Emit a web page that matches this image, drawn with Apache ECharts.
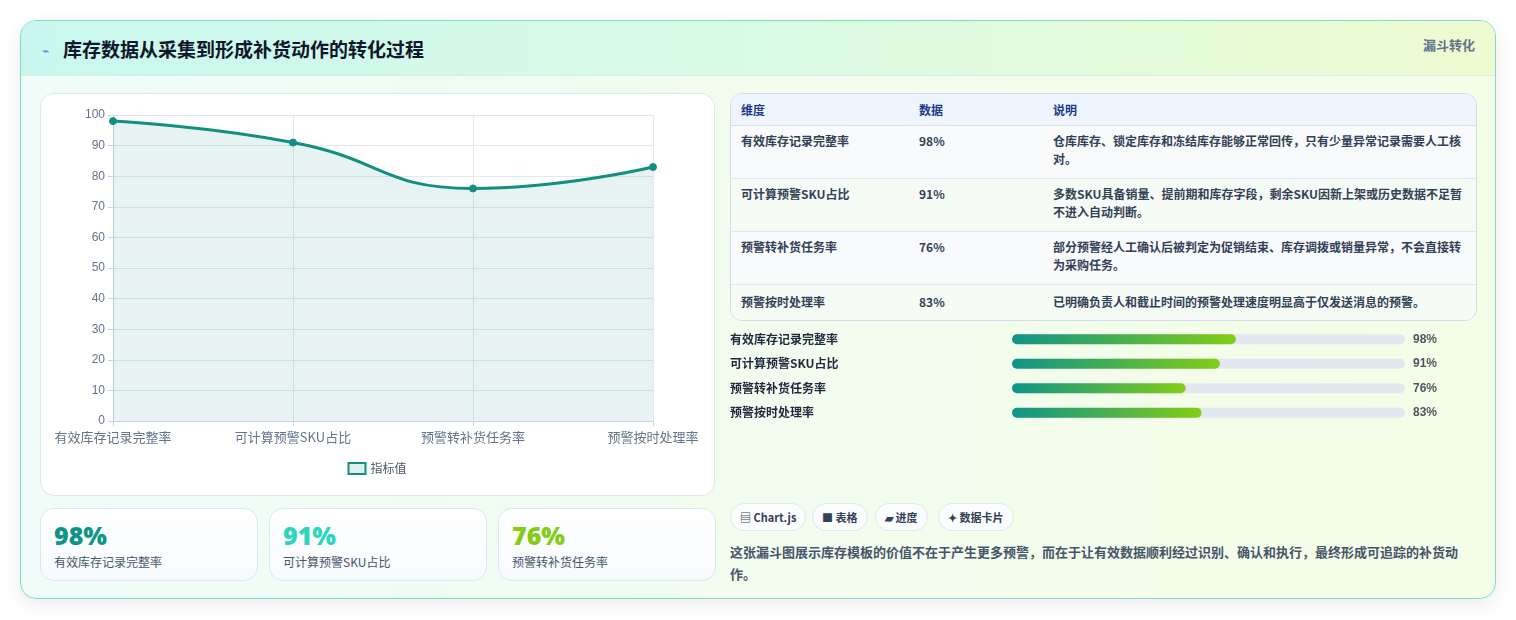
<!DOCTYPE html>
<html><head><meta charset="utf-8">
<script src="https://cdn.jsdelivr.net/npm/echarts@6/dist/echarts.min.js"></script>
<style>
*{box-sizing:border-box;margin:0;padding:0}
body{width:1516px;height:620px;background:#fff;font-family:"Noto Sans CJK SC","Noto Sans",sans-serif;position:relative;overflow:hidden}
#card{position:absolute;left:20px;top:20px;width:1476px;height:579px;border:1px solid #7fdcc4;border-radius:16px;background:linear-gradient(90deg,#effcf8,#f4fde6);box-shadow:0 6px 18px rgba(0,0,0,0.08);overflow:hidden}
#head{position:absolute;left:0;top:0;width:100%;height:55px;background:linear-gradient(90deg,#c9f7ef,#d9fae4 50%,#eefbd0);border-bottom:1px solid #d6ecea}
#title{position:absolute;left:42px;top:14px;font-size:19px;font-weight:700;color:#0f172a}
#icon{position:absolute;left:21px;top:20px;font-size:12px;color:#3b82f6}
#tag{position:absolute;right:20px;top:14px;font-size:13px;font-weight:700;color:#64748b}
.panel{position:absolute;background:#fff;border:1px solid #dde7ef;border-radius:14px}
.stat{position:absolute;top:487px;width:218px;height:73px;border:1px solid #dbe7f0;border-radius:14px;background:linear-gradient(180deg,#fff,#f7fafd)}
.stat b{position:absolute;left:13px;top:9px;font-size:25px;font-family:"Noto Sans",sans-serif;font-weight:900}
.stat span{position:absolute;left:13px;top:44px;font-size:12px;color:#475569}
table{position:absolute;left:709px;top:72px;width:747px;border-collapse:separate;border-spacing:0;border:1px solid #cfdbe6;border-radius:12px;overflow:hidden;font-size:12px;color:#334155;font-weight:600}
th{background:#eef5fe;color:#1e3a8a;text-align:left;height:32px;padding-left:10px;font-weight:700;border-bottom:1px solid #d5e0ea}
td{padding:5px 10px;vertical-align:top;line-height:18px;border-bottom:1px solid #dfe7ef}
tr:nth-child(odd) td{background:#f6fbf6}
tr:nth-child(even) td{background:#f8fafc}
tr:last-child td{border-bottom:none}
.chip{position:absolute;top:482px;height:28px;border:1px solid #dfe7ef;border-radius:14px;background:#fafcfd;font-size:11px;font-weight:700;color:#334155;line-height:26px;padding:0 9px}
#para{position:absolute;left:709px;top:520px;width:750px;font-size:13px;line-height:22px;color:#475569;font-weight:600}
</style></head><body>
<div id="card">
 <div id="head"><span id="icon">⌁</span><div id="title">库存数据从采集到形成补货动作的转化过程</div><div id="tag">漏斗转化</div></div>
 <div class="panel" style="left:19px;top:72px;width:675px;height:403px"></div>
 <div id="stats"></div>
 <table id="tbl"></table>
 <div id="chips"></div>
 <div id="para">这张漏斗图展示库存模板的价值不在于产生更多预警，而在于让有效数据顺利经过识别、确认和执行，最终形成可追踪的补货动作。</div>
</div>
<div id="line" style="position:absolute;left:40px;top:93px;width:674px;height:402px"></div>
<div id="bars" style="position:absolute;left:727px;top:327px;width:749px;height:100px"></div>
<script>
const categories=["有效库存记录完整率","可计算预警SKU占比","预警转补货任务率","预警按时处理率"];
const values=[98,91,76,83];
const notes=["仓库库存、锁定库存和冻结库存能够正常回传，只有少量异常记录需要人工核对。","多数SKU具备销量、提前期和库存字段，剩余SKU因新上架或历史数据不足暂不进入自动判断。","部分预警经人工确认后被判定为促销结束、库存调拨或销量异常，不会直接转为采购任务。","已明确负责人和截止时间的预警处理速度明显高于仅发送消息的预警。"];
const statColors=["#0f9488","#2dd4bf","#84cc16"];
const chips=["▤ Chart.js","■ 表格","▰ 进度","✦ 数据卡片"];
const chipX=[709,791,854,917];

let s='';for(let i=0;i<3;i++)s+=`<div class="stat" style="left:${19+i*229}px"><b style="color:${statColors[i]}">${values[i]}%</b><span>${categories[i]}</span></div>`;
document.getElementById('stats').innerHTML=s;
let t='<tr><th style="width:178px">维度</th><th style="width:134px">数据</th><th>说明</th></tr>';
const rh=[53,53,53,35];
categories.forEach((c,i)=>{t+=`<tr><td style="height:${rh[i]}px;padding-top:${i==3?8:6}px">${c}</td><td style="padding-top:${i==3?8:6}px">${values[i]}%</td><td style="padding-top:${i==3?8:6}px;padding-right:12px">${notes[i]}</td></tr>`});
document.getElementById('tbl').innerHTML=t;
document.getElementById('chips').innerHTML=chips.map((c,i)=>`<div class="chip" style="left:${chipX[i]}px">${c}</div>`).join('');

const ff='"Noto Sans CJK SC",sans-serif';
echarts.init(document.getElementById('line')).setOption({
 animation:false,
 grid:{left:73,right:61,top:22,bottom:74},
 legend:{top:364,left:'center',icon:'rect',itemWidth:17,itemHeight:11,itemStyle:{color:'#dcefec',borderColor:'#138f80',borderWidth:2},textStyle:{color:'#475569',fontSize:12,fontFamily:ff},data:['指标值']},
 xAxis:{type:'category',boundaryGap:false,data:categories,axisLine:{lineStyle:{color:'#cbd5e1'}},axisTick:{show:true,lineStyle:{color:'#cbd5e1'}},splitLine:{show:true,lineStyle:{color:'#e2e8f0'}},axisLabel:{color:'#64748b',fontSize:13,fontFamily:ff,interval:0,margin:10}},
 yAxis:{type:'value',min:0,max:100,interval:10,axisLine:{show:true,lineStyle:{color:'#cbd5e1'}},axisTick:{show:true,lineStyle:{color:'#cbd5e1'}},splitLine:{lineStyle:{color:'#e2e8f0'}},axisLabel:{color:'#64748b',fontSize:12}},
 series:[{name:'指标值',type:'line',smooth:true,data:values,symbol:'circle',symbolSize:7,lineStyle:{width:3,color:'#138f80'},itemStyle:{color:'#138f80',borderColor:'#138f80'},areaStyle:{color:'rgba(19,143,128,0.15)'}}]
});
echarts.init(document.getElementById('bars')).setOption({
 animation:false,
 grid:{left:285,right:71,top:0,bottom:2},
 xAxis:{type:'value',min:0,max:172,show:false},
 yAxis:{type:'category',inverse:true,data:categories,axisLine:{show:false},axisTick:{show:false},axisLabel:{margin:282,align:'left',color:'#1e293b',fontSize:12,fontWeight:600,fontFamily:ff}},
 series:[{type:'bar',data:values,barWidth:10,showBackground:true,backgroundStyle:{color:'#e2e8f0',borderRadius:5},
  itemStyle:{borderRadius:5,color:new echarts.graphic.LinearGradient(0,0,1,0,[{offset:0,color:'#0f9488'},{offset:1,color:'#84cc16'}])}},
  {type:'scatter',data:values.map((v,i)=>[172,i]),symbolSize:0,label:{show:true,position:'right',distance:8,formatter:p=>values[p.dataIndex]+'%',color:'#1e293b',fontSize:12,fontWeight:700}}]
});
</script></body></html>
